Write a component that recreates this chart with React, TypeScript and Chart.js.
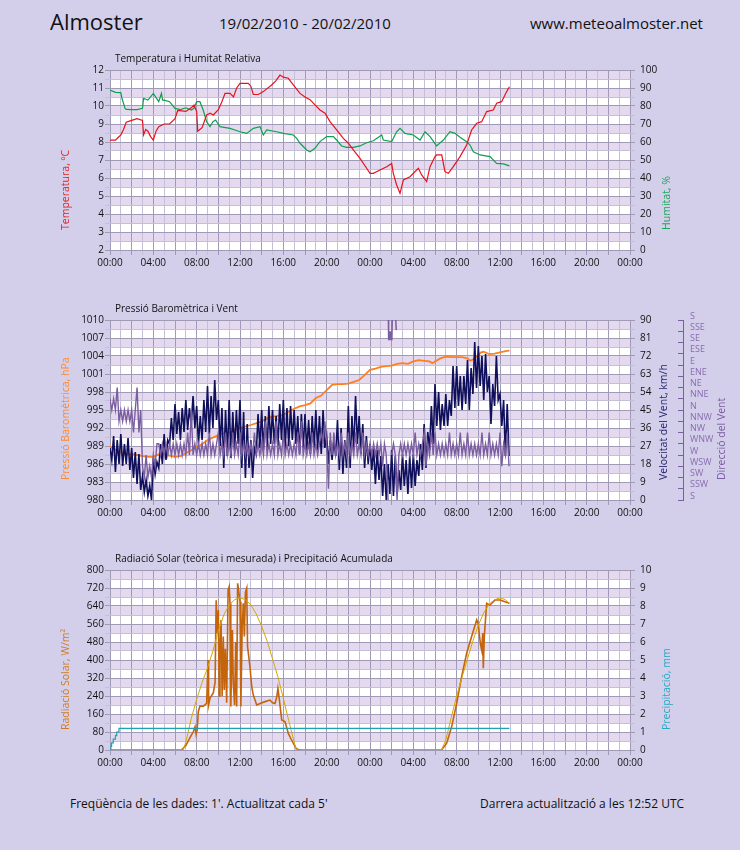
import { useEffect, useRef } from "react";
import { Chart, registerables } from "chart.js";

Chart.register(...registerables);

const FONT = "'Open Sans', 'Noto Sans', sans-serif";
const PAGE_BG = "#d3cfeb";
const BAND = "#e4d9ef";
const GRID_DARK = "#9f9bb6";
const GRID_LIGHT = "#c4c0d8";
const INK = "#111111";

// All times are hours counted from 19/02/2010 00:00 UTC.

// Temperatura (ºC)
const tempHours = [0, 0.5, 0.75, 1, 1.25, 1.5, 2, 2.5, 3, 3.1, 3.3, 3.5, 3.75, 4, 4.25, 4.5, 5, 5.5, 6, 6.25, 7, 7.5, 7.75, 8, 8.1, 8.5, 8.92, 9.25, 9.54, 10, 10.3, 10.62, 11.08, 11.4, 11.69, 12, 12.77, 13, 13.23, 13.69, 14.15, 14.92, 15.3, 15.69, 16, 16.46, 16.92, 17.54, 18, 18.46, 19.38, 19.85, 20.31, 20.92, 21.54, 22, 22.46, 23.08, 23.69, 24, 24.31, 24.92, 25.54, 26, 26.15, 26.46, 26.77, 27.08, 27.69, 28.46, 28.77, 29.23, 29.54, 30, 30.15, 30.62, 30.92, 31.23, 31.69, 32.31, 32.92, 33.38, 33.85, 34.31, 34.77, 35.38, 35.69, 36.15, 36.62, 36.87];
const tempValues = [8.1, 8.1, 8.25, 8.4, 8.7, 9.1, 9.2, 9.3, 9.2, 8.4, 8.7, 8.6, 8.3, 8.1, 8.6, 8.85, 9.0, 9.0, 9.3, 9.75, 9.7, 9.9, 10.05, 9.7, 8.6, 8.8, 9.5, 9.6, 9.5, 9.8, 10.2, 10.7, 10.7, 10.5, 11.0, 11.26, 11.26, 11.1, 10.64, 10.64, 10.8, 11.17, 11.4, 11.72, 11.6, 11.54, 11.17, 10.7, 10.5, 10.35, 9.78, 9.6, 9.13, 8.67, 8.2, 7.93, 7.56, 7.09, 6.54, 6.26, 6.26, 6.44, 6.63, 6.81, 6.26, 5.61, 5.15, 5.89, 6.07, 6.54, 6.17, 5.8, 6.63, 7.19, 7.28, 7.28, 6.35, 6.26, 6.63, 7.19, 7.83, 8.67, 9.04, 9.13, 9.69, 9.78, 10.15, 10.24, 10.8, 11.07];

// Humitat relativa (%)
const humHours = [0, 0.5, 1, 1.1, 1.4, 1.5, 2, 2.5, 3, 3.1, 3.5, 4, 4.5, 4.75, 4.85, 5, 5.5, 6, 6.5, 7, 7.5, 7.75, 8, 8.3, 8.6, 8.92, 9.23, 9.5, 9.75, 10.15, 11.08, 11.6, 12, 12.62, 13.23, 13.85, 14.15, 14.46, 15.38, 16, 16.92, 17.23, 17.54, 18.15, 18.46, 18.92, 19.38, 20, 20.62, 20.92, 21.38, 21.85, 22.46, 23.08, 23.69, 24.31, 25.08, 25.23, 26, 26.46, 26.77, 27.23, 28, 28.62, 29.08, 29.54, 30.15, 30.77, 31.38, 31.85, 32.31, 32.92, 33.23, 33.54, 34.15, 35.08, 35.69, 36.31, 36.87];
const humValues = [88.9, 87.6, 87.4, 84.3, 78.5, 78.1, 78.0, 78.0, 78.7, 84.3, 83.3, 87.0, 82.4, 87.0, 83.3, 83.3, 82.4, 78.7, 78.0, 79.0, 77.8, 78.7, 82.4, 82.4, 77.8, 71.3, 68.5, 71.3, 72.2, 68.5, 67.6, 66.5, 65.7, 64.8, 67.6, 68.5, 63.9, 66.7, 65.7, 64.8, 63.9, 62.0, 59.3, 55.6, 54.6, 56.5, 60.2, 63.0, 63.0, 61.1, 57.8, 57.0, 57.0, 57.8, 59.6, 60.7, 63.9, 61.1, 60.2, 65.7, 67.6, 64.8, 63.9, 61.1, 65.7, 63.0, 57.8, 61.1, 65.7, 64.8, 62.6, 60.2, 58.3, 54.6, 52.8, 51.9, 48.1, 47.8, 46.7];

// Pressió baromètrica (hPa)
const pressHours = [0, 0.5, 1, 1.5, 2, 2.5, 3, 3.5, 4, 4.5, 5, 5.5, 6, 6.5, 7, 7.5, 8, 8.5, 9, 9.5, 10, 10.5, 11, 11.5, 12, 13, 14, 14.5, 15, 16, 16.5, 17, 17.5, 18, 18.5, 19, 19.5, 20, 20.5, 21, 21.5, 22, 22.5, 23, 23.5, 24, 24.5, 25, 25.5, 26, 26.5, 27, 27.5, 28, 28.5, 29, 29.5, 29.75, 30, 30.5, 31, 31.5, 32, 32.5, 33, 33.25, 33.5, 34, 34.25, 34.5, 35, 35.5, 36, 36.5, 36.87];
const pressValues = [988.9, 988.4, 987.9, 987.7, 987.7, 987.5, 987.3, 987.2, 987.2, 987.6, 987.7, 987.4, 987.2, 987.3, 987.8, 988.3, 988.9, 989.3, 990.0, 990.4, 990.8, 991.1, 991.2, 991.6, 992.0, 992.5, 993.1, 993.6, 993.9, 994.2, 994.7, 995.2, 995.6, 995.8, 996.1, 997.0, 997.4, 998.3, 999.2, 999.3, 999.3, 999.4, 999.7, 1000.0, 1000.8, 1001.7, 1001.9, 1002.2, 1002.3, 1002.4, 1002.7, 1002.8, 1002.7, 1003.1, 1003.3, 1003.2, 1003.1, 1002.8, 1003.1, 1003.6, 1003.9, 1003.8, 1003.8, 1003.8, 1003.6, 1003.2, 1003.4, 1004.2, 1004.6, 1004.7, 1004.3, 1004.4, 1004.6, 1004.8, 1004.9];

// Velocitat del vent (km/h), one reading every 10 minutes from 00:00
const windSpeed = [
  26, 20, 32, 14, 30, 18, 33, 17, 28, 18, 31, 15, 26, 11, 24, 8, 23, 5,
  12, 4, 10, 2, 7, 0, 21, 13, 19, 16, 28, 18, 33, 20, 30, 28, 41, 30,
  48, 33, 44, 30, 46, 34, 50, 35, 46, 38, 52, 36, 47, 28, 42, 30, 50, 34,
  57, 33, 52, 36, 60, 40, 50, 27, 46, 16, 45, 22, 50, 21, 44, 25, 45, 28,
  50, 16, 44, 11, 38, 16, 30, 11, 26, 23, 43, 26, 45, 25, 42, 25, 47, 28,
  45, 28, 42, 27, 48, 30, 50, 25, 46, 27, 47, 30, 45, 28, 42, 23, 43, 26,
  43, 25, 40, 23, 42, 26, 45, 25, 42, 23, 45, 26, 32, 18, 30, 20, 30, 22,
  40, 15, 36, 13, 30, 16, 47, 16, 42, 25, 52, 28, 42, 23, 38, 16, 32, 18,
  28, 15, 26, 8, 25, 10, 22, 2, 18, 0, 18, 3, 25, 2, 22, 3, 15, 5,
  23, 7, 20, 3, 22, 6, 23, 7, 20, 12, 28, 15, 38, 16, 34, 25, 47, 28,
  58, 37, 54, 35, 48, 37, 53, 37, 50, 42, 67, 46, 67, 47, 62, 45, 62, 48,
  70, 45, 66, 53, 79, 56, 77, 57, 72, 50, 73, 54, 62, 38, 58, 47, 72, 50,
  53, 37, 50, 22, 48, 22,
];

// Direcció del vent, sector index (0 = S, 4 = W, 8 = N, 12 = E, 16 = S), every 10 minutes
const windDir = [
  9, 8, 9, 8, 10, 7, 8, 7, 8, 7, 8, 7, 8, 6, 8, 10, 6, 8,
  3, 2, 4, 2, 3, 2, 4, 3, 5, 5, 4, 5, 4, 5, 4, 5, 4, 5,
  4, 5, 4, 5, 4, 5, 4, 6, 4, 8, 4, 5, 4, 5, 4, 5, 4, 5,
  4, 6, 4, 5, 4, 5, 6, 4, 5, 4, 6, 4, 5, 4, 6, 4, 5, 4,
  6, 4, 5, 4, 5, 4, 5, 4, 6, 4, 5, 4, 5, 4, 7, 4, 5, 4,
  5, 4, 7, 4, 5, 4, 6, 4, 5, 4, 5, 4, 5, 4, 6, 4, 7, 4,
  5, 4, 5, 4, 6, 4, 5, 4, 5, 6, 5, 7, 5, 1, 6, 4, 6, 4,
  5, 4, 6, 4, 5, 4, 6, 4, 5, 4, 6, 4, 5, 4, 6, 4, 5, 4,
  5, 4, 5, 4, 5, 4, 5, 3, 5, 4, 0, null, 4, 5, 4, 0, 4, 5,
  4, 5, 4, 5, 4, 5, 4, 6, 4, 5, 4, 5, 6, 3, 5, 4, 6, 4,
  6, 4, 5, 4, 5, 4, 5, 4, 6, 4, 5, 4, 5, 4, 6, 4, 5, 4,
  6, 4, 5, 4, 5, 4, 5, 4, 6, 4, 5, 4, 6, 4, 5, 4, 5, 4,
  6, 3, 5, 4, 6, 3,
];
// Short southerly spell around 01:45 on the 20th, wrapped to the top of the scale
const windDirTopHours = [25.7, 25.72, 25.8, 25.88, 25.95, 26.02, 26.05, 26.2, 26.38, 26.42];
const windDirTopValues = [16, 14.2, 15, 14.2, 15, 14.2, 16, null, 16, 15.1];

const directionLabels = ["S", "SSW", "SW", "WSW", "W", "WNW", "NW", "NNW", "N", "NNE", "NE", "ENE", "E", "ESE", "SE", "SSE", "S"];

// Radiació solar teòrica (W/m²)
const solarTheoHours = [0, 6.75, 7, 7.5, 8, 8.5, 9, 9.5, 10, 10.5, 11, 11.5, 12, 12.5, 13, 13.5, 14, 14.5, 15, 15.5, 16, 16.5, 17, 17.2, 30.6, 31, 31.5, 32, 32.5, 33, 33.5, 34, 34.5, 35, 35.5, 36, 36.5, 36.87];
const solarTheoValues = [0, 0, 35, 140, 225, 300, 365, 440, 530, 600, 645, 668, 676, 668, 645, 605, 550, 485, 405, 325, 230, 130, 35, 0, 0, 45, 145, 240, 325, 405, 485, 555, 610, 648, 668, 676, 668, 650];

// Radiació solar mesurada (W/m²)
const solarHours = [0, 6.6, 7, 7.38, 7.69, 7.85, 7.95, 8.05, 8.15, 8.3, 8.62, 8.92, 9.05, 9.1, 9.23, 9.54, 9.7, 9.8, 9.9, 10, 10.08, 10.15, 10.25, 10.35, 10.46, 10.55, 10.65, 10.77, 10.9, 11, 11.08, 11.15, 11.3, 11.38, 11.5, 11.6, 11.69, 11.78, 11.85, 12, 12.08, 12.2, 12.31, 12.4, 12.5, 12.62, 12.7, 12.92, 13.08, 13.23, 13.54, 13.85, 14.31, 14.77, 15, 15.23, 15.4, 15.5, 15.6, 15.85, 16.15, 16.46, 16.7, 16.92, 17.2, 17.54, 30.6, 31.08, 31.54, 32, 32.46, 32.92, 33.38, 33.85, 34, 34.08, 34.2, 34.31, 34.4, 34.46, 34.55, 34.77, 35.08, 35.54, 36, 36.46, 36.87];
const solarValues = [0, 0, 20, 55, 81, 104, 70, 90, 170, 195, 195, 207, 400, 200, 230, 255, 300, 665, 520, 622, 240, 450, 578, 240, 504, 267, 450, 210, 711, 726, 652, 193, 533, 296, 200, 480, 193, 741, 720, 659, 193, 548, 652, 504, 700, 719, 459, 370, 281, 244, 200, 207, 215, 222, 210, 207, 237, 274, 237, 133, 126, 74, 50, 30, 5, 0, 0, 30, 104, 207, 326, 430, 504, 578, 560, 519, 470, 444, 520, 363, 504, 652, 644, 667, 667, 659, 652];

// Precipitació acumulada (mm)
const rainHours = [0, 0.08, 0.15, 0.3, 0.5, 0.62, 0.83, 36.87];
const rainValues = [0, 0.2, 0.4, 0.6, 0.8, 1.0, 1.2, 1.2];

const pairs = (xs: number[], ys: (number | null)[]) => xs.map((x, i) => ({ x, y: ys[i] }));
const every10min = (ys: (number | null)[]) => ys.map((y, i) => ({ x: i / 6, y }));

const onStep = (v: number, origin: number, step: number) => {
  const k = (v - origin) / step;
  return Math.abs(k - Math.round(k)) < 1e-6;
};

const tickFont = { family: FONT, size: 10 };

function timeAxis() {
  return {
    type: "linear",
    position: "bottom",
    min: 0,
    max: 48,
    afterFit: (s: any) => {
      s.height = 30;
    },
    border: { display: false },
    grid: {
      tickLength: 5,
      color: (c: any) => (c.tick && onStep(c.tick.value, 0, 2) ? GRID_DARK : GRID_LIGHT),
    },
    ticks: {
      stepSize: 1,
      autoSkip: false,
      maxRotation: 0,
      minRotation: 0,
      padding: 2,
      color: INK,
      font: tickFont,
      callback: (v: number) => (onStep(v, 0, 4) ? `${String(Math.round(v) % 24).padStart(2, "0")}:00` : ""),
    },
  };
}

function valueAxis(o: { min: number; max: number; step: number; major: number; side: "left" | "right"; width: number; weight?: number }) {
  const left = o.side === "left";
  return {
    type: "linear",
    position: o.side,
    min: o.min,
    max: o.max,
    weight: o.weight ?? 0,
    afterFit: (s: any) => {
      s.width = o.width;
    },
    border: { display: false },
    grid: {
      drawOnChartArea: left,
      tickLength: 5,
      color: (c: any) => (c.tick && onStep(c.tick.value, o.min, o.major) ? GRID_DARK : GRID_LIGHT),
    },
    ticks: {
      stepSize: o.step,
      autoSkip: false,
      padding: left ? 1 : 5,
      color: INK,
      font: tickFont,
      callback: (v: number) => (onStep(v, o.min, o.major) ? String(Math.round(v)) : ""),
    },
  };
}

// Plot background bands, panel title and rotated axis titles
const panelDecor = {
  id: "panelDecor",
  beforeDraw(chart: any, _args: any, opts: any) {
    const { ctx, chartArea: a } = chart;
    const ys = chart.scales.y;
    ctx.save();
    ctx.fillStyle = "#ffffff";
    ctx.fillRect(a.left, a.top, a.right - a.left, a.bottom - a.top);
    ctx.fillStyle = BAND;
    const half = opts.bandStep;
    for (let v = ys.min + half; v < ys.max - 1e-9; v += 2 * half) {
      const yTop = ys.getPixelForValue(v + half);
      const yBot = ys.getPixelForValue(v);
      ctx.fillRect(a.left, yTop, a.right - a.left, yBot - yTop);
    }
    ctx.textBaseline = "middle";
    ctx.textAlign = "left";
    ctx.fillStyle = INK;
    ctx.font = `10px ${FONT}`;
    ctx.fillText(opts.title, a.left + 5, a.top - 11);
    ctx.font = `10.5px ${FONT}`;
    for (const t of opts.axisTitles) {
      ctx.save();
      ctx.translate(t.x, a.bottom - 20);
      ctx.rotate(-Math.PI / 2);
      ctx.fillStyle = t.color;
      ctx.fillText(t.text, 0, 0);
      ctx.restore();
    }
    ctx.restore();
  },
};

function line(data: any[], color: string, width: number, yAxisID: string, extra: any = {}) {
  return {
    data,
    borderColor: color,
    backgroundColor: color,
    borderWidth: width,
    pointRadius: 0,
    tension: 0,
    fill: false,
    spanGaps: false,
    yAxisID,
    ...extra,
  };
}

function baseOptions(scales: any, decor: any) {
  return {
    responsive: false,
    animation: false,
    devicePixelRatio: 1,
    events: [],
    layout: { padding: { top: 25, left: 0, right: 0, bottom: 0 } },
    plugins: { legend: { display: false }, tooltip: { enabled: false }, panelDecor: decor },
    scales,
  };
}

function tempConfig(): any {
  return {
    type: "line",
    data: {
      datasets: [
        line(pairs(tempHours, tempValues), "#e8121c", 1.2, "y"),
        line(pairs(humHours, humValues), "#0ea04c", 1.2, "y1"),
      ],
    },
    options: baseOptions(
      {
        x: timeAxis(),
        y: valueAxis({ min: 2, max: 12, step: 0.5, major: 1, side: "left", width: 110 }),
        y1: valueAxis({ min: 0, max: 100, step: 5, major: 10, side: "right", width: 110 }),
      },
      {
        title: "Temperatura i Humitat Relativa",
        bandStep: 0.5,
        axisTitles: [
          { text: "Temperatura, ºC", color: "#e02424", x: 66 },
          { text: "Humitat, %", color: "#1aa856", x: 667 },
        ],
      }
    ),
    plugins: [panelDecor],
  };
}

function windConfig(): any {
  const DIR = "#7b5ea0";
  return {
    type: "line",
    data: {
      datasets: [
        line(every10min(windDir), DIR, 1.4, "y2"),
        line(pairs(windDirTopHours, windDirTopValues), DIR, 1.5, "y2"),
        line(every10min(windSpeed), "#0f0f5c", 1.6, "y1"),
        line(pairs(pressHours, pressValues), "#ff7f1f", 1.8, "y"),
      ],
    },
    options: baseOptions(
      {
        x: timeAxis(),
        y: valueAxis({ min: 980, max: 1010, step: 1.5, major: 3, side: "left", width: 110 }),
        y1: valueAxis({ min: 0, max: 90, step: 4.5, major: 9, side: "right", width: 53, weight: 0 }),
        y2: {
          type: "linear",
          position: "right",
          min: 0,
          max: 16,
          weight: 1,
          afterFit: (s: any) => {
            s.width = 57;
          },
          border: { display: true, color: DIR, width: 1 },
          grid: { drawOnChartArea: false, tickLength: -5, color: DIR },
          ticks: {
            stepSize: 1,
            autoSkip: false,
            padding: 12,
            labelOffset: -4,
            color: "#8a6cae",
            font: { family: FONT, size: 9 },
            callback: (v: number) => directionLabels[Math.round(v)] ?? "",
          },
        },
      },
      {
        title: "Pressió Baromètrica i Vent",
        bandStep: 1.5,
        axisTitles: [
          { text: "Pressió Baromètrica, hPa", color: "#ff8a2e", x: 66 },
          { text: "Velocitat del Vent, km/h", color: "#23236e", x: 664 },
          { text: "Direcció del Vent", color: "#7a5aa0", x: 722 },
        ],
      }
    ),
    plugins: [panelDecor],
  };
}

function solarConfig(): any {
  return {
    type: "line",
    data: {
      datasets: [
        line(pairs(rainHours, rainValues), "#1ba2b4", 1.2, "y1", { stepped: true }),
        line(pairs(solarTheoHours, solarTheoValues), "#d6a800", 1, "y"),
        line(pairs(solarHours, solarValues), "#c4650c", 1.6, "y"),
      ],
    },
    options: baseOptions(
      {
        x: timeAxis(),
        y: valueAxis({ min: 0, max: 800, step: 40, major: 80, side: "left", width: 110 }),
        y1: valueAxis({ min: 0, max: 10, step: 0.5, major: 1, side: "right", width: 110 }),
      },
      {
        title: "Radiació Solar (teòrica i mesurada) i Precipitació Acumulada",
        bandStep: 40,
        axisTitles: [
          { text: "Radiació Solar, W/m²", color: "#d07a24", x: 66 },
          { text: "Precipitació, mm", color: "#2aa8c0", x: 667 },
        ],
      }
    ),
    plugins: [panelDecor],
  };
}

const abs = (left: number, top: number, size: number): any => ({
  position: "absolute",
  left,
  top,
  fontSize: size,
  lineHeight: 1,
  whiteSpace: "nowrap",
});

export default function App() {
  const c1 = useRef<HTMLCanvasElement>(null);
  const c2 = useRef<HTMLCanvasElement>(null);
  const c3 = useRef<HTMLCanvasElement>(null);

  useEffect(() => {
    const charts = [
      new Chart(c1.current!, tempConfig()),
      new Chart(c2.current!, windConfig()),
      new Chart(c3.current!, solarConfig()),
    ];
    return () => charts.forEach((c) => c.destroy());
  }, []);

  const canvasStyle = (top: number): any => ({ position: "absolute", left: 0, top, width: 740, height: 235 });

  return (
    <div
      style={{
        position: "absolute",
        left: 0,
        top: 0,
        width: 740,
        height: 850,
        background: PAGE_BG,
        fontFamily: FONT,
        color: INK,
        overflow: "hidden",
      }}
    >
      <div style={abs(50, 10, 22)}>Almoster</div>
      <div style={abs(219, 16, 15)}>19/02/2010 - 20/02/2010</div>
      <div style={abs(530, 16, 15)}>www.meteoalmoster.net</div>
      <canvas ref={c1} width={740} height={235} style={canvasStyle(45)} />
      <canvas ref={c2} width={740} height={235} style={canvasStyle(295)} />
      <canvas ref={c3} width={740} height={235} style={canvasStyle(545)} />
      <div style={abs(70, 798, 12)}>Freqüència de les dades: 1'. Actualitzat cada 5'</div>
      <div style={abs(480, 798, 12)}>Darrera actualització a les 12:52 UTC</div>
    </div>
  );
}
